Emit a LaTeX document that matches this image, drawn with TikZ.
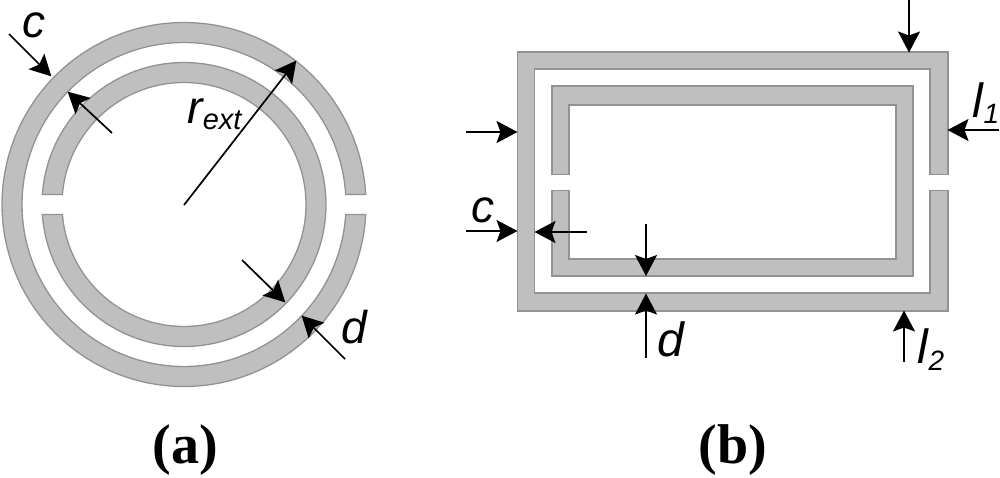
\documentclass[tikz,border=0pt]{standalone}
\usepackage{fontspec}
\setmainfont{Liberation Serif}
\newfontfamily\labelfont{Liberation Sans}
\usetikzlibrary{arrows.meta}
\definecolor{metal}{HTML}{BFBFBF}
\definecolor{metaledge}{HTML}{929292}
\tikzset{
  ring/.style={fill=metal,draw=metaledge,line width=1.3pt,line join=miter},
  dim/.style={draw=black,line width=1.7pt,-{Stealth[length=21pt,width=22pt,inset=4pt]},shorten >=-0.5pt},
  sym/.style={font=\labelfont\itshape\fontsize{46}{46}\selectfont,inner sep=0pt,text=black,anchor=base},
  captext/.style={font=\bfseries\fontsize{56}{56}\selectfont,inner sep=0pt,text=black,anchor=base}
}
% r-out, r-in, start and end angle on the outer edge, start and end angle on the inner edge
\newcommand{\ringarc}[6]{%
  \path[ring] plot[samples=240,domain=#3:#4] ({184+#1*cos(\x)},{204.5+#1*sin(\x)})
    -- plot[samples=240,domain=#6:#5] ({184+#2*cos(\x)},{204.5+#2*sin(\x)}) -- cycle;}
\begin{document}
\begin{tikzpicture}[x=1pt,y=-1pt]
\useasboundingbox (0,0) rectangle (1000,477);
% circular resonator
\ringarc{182}{162}{3.15}{356.85}{3.54}{356.46}
\ringarc{142}{122}{184.04}{535.96}{184.70}{535.30}
% rectangular resonator
\path[ring] (552,174.5) -- (552,86) -- (913,86) -- (913,276) -- (552,276) -- (552,190.5)
  -- (569,190.5) -- (569,259) -- (896,259) -- (896,105) -- (569,105) -- (569,174.5) -- cycle;
\path[ring] (930,174.5) -- (930,69) -- (534.5,69) -- (534.5,293) -- (930,293) -- (930,190.5)
  -- (948,190.5) -- (948,311) -- (517.5,311) -- (517.5,52) -- (948,52) -- (948,174.5) -- cycle;
% connector ends
\coordinate (a1s) at (9,34);     \coordinate (a1e) at (51,76);
\coordinate (a2s) at (112,133);  \coordinate (a2e) at (68,92);
\coordinate (a3s) at (184,205);  \coordinate (a3e) at (296,61);
\coordinate (a4s) at (242,260);  \coordinate (a4e) at (285,302);
\coordinate (a5s) at (345,359);  \coordinate (a5e) at (302,316);
\coordinate (b1s) at (466,132);  \coordinate (b1e) at (517,132);
\coordinate (b2s) at (466,231);  \coordinate (b2e) at (517,231);
\coordinate (b3s) at (587,232);  \coordinate (b3e) at (535,232);
\coordinate (b4s) at (646,224);  \coordinate (b4e) at (646,275.5);
\coordinate (b5s) at (646,358);  \coordinate (b5e) at (646,294);
\coordinate (b6s) at (909,0);    \coordinate (b6e) at (909,52);
\coordinate (b7s) at (999,130);  \coordinate (b7e) at (948,130);
\coordinate (b8s) at (904,362);  \coordinate (b8e) at (904,311);
\foreach \n in {a1,a2,a3,a4,a5,b1,b2,b3,b4,b5,b6,b7,b8}{\draw[dim] (\n s) -- (\n e);}
% labels
\node[sym] (lc) at (34,37) {c};
\node[sym] (lr) at (214.5,123) {r\raisebox{-6pt}{\fontsize{29}{29}\selectfont ext}};
\node[sym] (ld) at (354.5,343) {d};
\node[sym] (lc2) at (483,222.5) {c};
\node[sym] (ld2) at (671,356) {\fontsize{48}{48}\selectfont d};
\node[sym] (ll1) at (986,117) {\fontsize{48}{48}\selectfont l\raisebox{-6pt}{\fontsize{28}{28}\selectfont 1}};
\node[sym] (ll2) at (931,363) {\fontsize{48}{48}\selectfont l\raisebox{-7pt}{\fontsize{28}{28}\selectfont 2}};
\node[captext] (ca) at (185.5,463) {(a)};
\node[captext] (cb) at (733,463) {(b)};
\end{tikzpicture}
\end{document}
